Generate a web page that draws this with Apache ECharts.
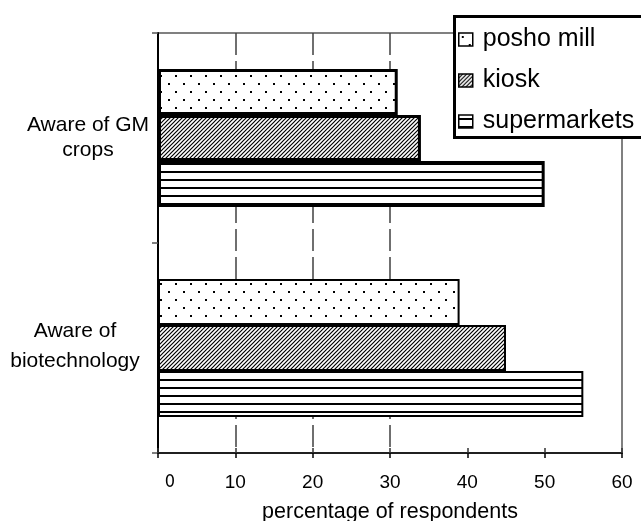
<!DOCTYPE html>
<html><head><meta charset="utf-8">
<script src="https://cdn.jsdelivr.net/npm/echarts@6/dist/echarts.min.js"></script>
<style>html,body{margin:0;padding:0;background:#fff}#c{width:641px;height:521px}</style>
</head><body><div id="c"></div>
<script>
var categories = ['Aware of GM\ncrops', 'Aware of\nbiotechnology'];
var seriesNames = ['posho mill', 'kiosk', 'supermarkets'];
var poshoMill = [31, 39];
var kiosk = [34, 45];
var supermarkets = [50, 55];
var xTicks = [0, 10, 20, 30, 40, 50, 60];

function pattern(kind) {
  var c = document.createElement('canvas');
  var g;
  if (kind === 'dots') {
    c.width = 15; c.height = 16; g = c.getContext('2d');
    g.fillStyle = '#fff'; g.fillRect(0, 0, 15, 16);
    g.fillStyle = '#000';
    g.fillRect(3, 3, 2, 2); g.fillRect(10, 11, 2, 2);
  } else if (kind === 'hatch') {
    c.width = 4; c.height = 4; g = c.getContext('2d');
    g.fillStyle = '#fff'; g.fillRect(0, 0, 4, 4);
    g.strokeStyle = '#000'; g.lineWidth = 1.2;
    g.beginPath();
    g.moveTo(-1, 5); g.lineTo(5, -1);
    g.moveTo(-1, 1); g.lineTo(1, -1);
    g.moveTo(3, 5); g.lineTo(5, 3);
    g.stroke();
  } else {
    c.width = 8; c.height = 8; g = c.getContext('2d');
    g.fillStyle = '#fff'; g.fillRect(0, 0, 8, 8);
    g.fillStyle = '#000'; g.fillRect(0, 3, 8, 2);
  }
  return { image: c, repeat: 'repeat' };
}
var fills = [pattern('dots'), pattern('hatch'), pattern('lines')];
var values = [poshoMill, kiosk, supermarkets];

var chart = echarts.init(document.getElementById('c'), null, { renderer: 'canvas' });
var font = 'Liberation Sans, Arial, sans-serif';
chart.setOption({
  animation: false,
  backgroundColor: '#fff',
  textStyle: { fontFamily: font, color: '#000' },
  grid: { left: 158, right: 19, top: 33, bottom: 68, outerBoundsMode: 'none', containLabel: false, show: true, borderColor: '#808080', borderWidth: 2, backgroundColor: 'transparent' },
  graphic: [{
    type: 'rect', left: 453, top: 15, z: 50,
    shape: { width: 200, height: 121 },
    style: { fill: '#fff', stroke: '#000', lineWidth: 3 }
  }],
  legend: {
    orient: 'vertical', left: 452, top: 14, z: 60,
    padding: [13, 6, 2, 6],
    icon: 'rect',
    itemWidth: 14, itemHeight: 13, itemGap: 16,
    data: seriesNames,
    itemStyle: { borderColor: '#000', borderWidth: 1.5 },
    textStyle: { fontSize: 25, lineHeight: 25, color: '#000', fontFamily: font, padding: [0, 0, 0, 5] }
  },
  xAxis: [{
    type: 'value', min: xTicks[0], max: xTicks[xTicks.length - 1], interval: 10,
    position: 'bottom',
    axisLine: { show: true, lineStyle: { color: '#000', width: 1.5 } },
    axisTick: { show: true, length: 5, lineStyle: { color: '#000', width: 1.5 } },
    splitLine: { show: true, lineStyle: { color: ['rgba(0,0,0,0)', '#404040', '#404040', '#404040', 'rgba(0,0,0,0)', 'rgba(0,0,0,0)', 'rgba(0,0,0,0)'], width: 1.5, type: [22, 6] } },
    axisLabel: {
      margin: 20, fontSize: 19, color: '#000', fontFamily: font,
      formatter: function (v) { return v === 0 ? '{z|0}' : String(v); },
      rich: { z: { fontFamily: 'Liberation Sans Narrow, DejaVu Sans Condensed, sans-serif', fontSize: 18, padding: [0, 0, 0, 24], color: '#000' } }
    },
    name: 'percentage of respondents', nameLocation: 'middle', nameGap: 48,
    nameTextStyle: { fontSize: 21.5, color: '#000', fontFamily: font }
  }, {
    type: 'value', min: xTicks[0], max: xTicks[xTicks.length - 1], interval: 10,
    position: 'bottom', offset: 0,
    axisLine: { show: false },
    axisTick: { show: true, inside: true, length: 5, lineStyle: { color: '#333', width: 1.5 } },
    axisLabel: { show: false }, splitLine: { show: false }
  }],
  yAxis: {
    type: 'category', data: categories, inverse: true,
    axisLine: { show: true, lineStyle: { color: '#000', width: 2 } },
    axisTick: { show: true, length: 6, lineStyle: { color: '#555', width: 1.5 } },
    axisLabel: {
      align: 'center', margin: 70, fontSize: 21, lineHeight: 26, color: '#000', fontFamily: font,
      formatter: function (v, i) { return i === 0 ? '{g|' + v.replace('\n', '}\n{g|') + '}' : '{b|' + v.replace('\n', '}\n{b|') + '}'; },
      rich: {
        g: { fontSize: 21, lineHeight: 25, align: 'center', fontFamily: font, color: '#000' },
        b: { fontSize: 21, lineHeight: 30, align: 'center', fontFamily: font, color: '#000', padding: [0, 26, 4, 0] }
      }
    }
  },
  series: values.map(function (vals, s) {
    return {
      name: seriesNames[s], type: 'bar', xAxisIndex: 0,
      barWidth: 46, barGap: '0%', barCategoryGap: '34%',
      itemStyle: { color: fills[s], borderColor: '#000', borderWidth: 2.5 },
      data: vals.map(function (v, i) { return { value: v, itemStyle: { borderWidth: i === 0 ? 3 : 2 } }; })
    };
  })
});
</script></body></html>
